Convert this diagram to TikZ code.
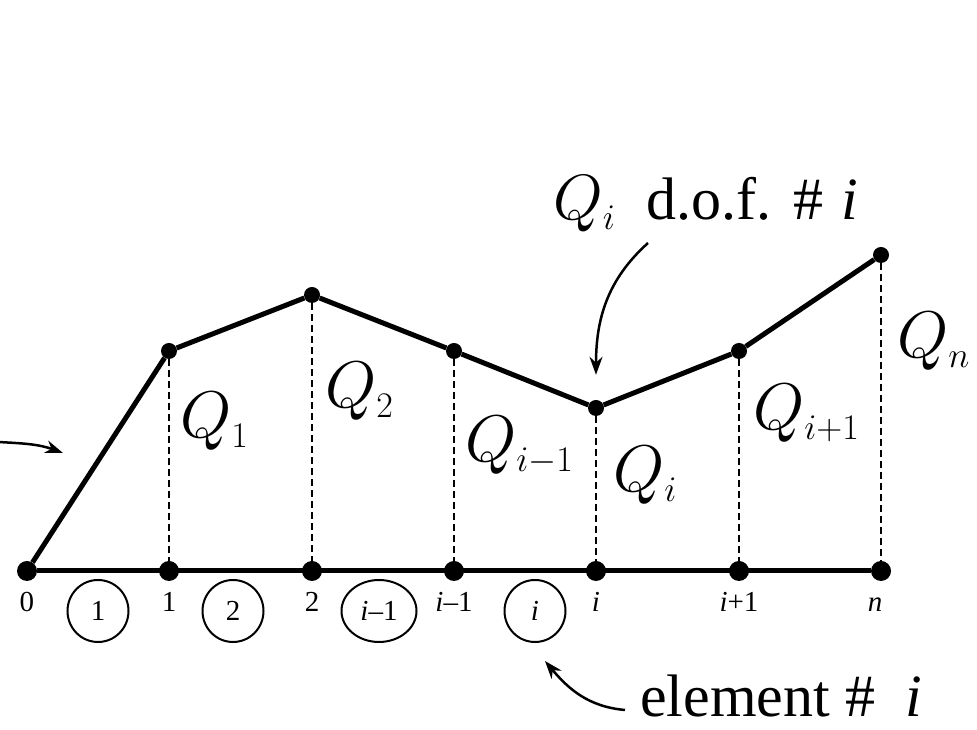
\RequirePackage{fix-cm}
\documentclass[tikz,border=0pt]{standalone}
\usepackage[no-math]{fontspec}
\setmainfont{Liberation Serif}
\usetikzlibrary{arrows.meta,shapes.geometric}

\newcommand{\Qlab}[1]{$Q_{\hbox{\fontsize{36}{40}\selectfont\medmuskip=0mu$#1$}}$}

\begin{document}
\begin{tikzpicture}[x=1pt, y=1pt, >={Stealth[length=18pt,width=13pt]},
  every node/.style={inner sep=0pt},
  basedot/.style={circle, fill, minimum size=20pt},
  topdot/.style={circle, fill, minimum size=16pt},
  shapeline/.style={line width=5pt, line join=round},
  dashline/.style={line width=2.2pt, dash pattern=on 7pt off 4pt},
  elem/.style={draw, ellipse, line width=2pt, minimum width=61pt, minimum height=62pt, font=\fontsize{29}{34}\selectfont},
  num/.style={anchor=base, font=\fontsize{29}{34}\selectfont},
  qlab/.style={anchor=base west, font=\fontsize{66}{76}\selectfont},
  note/.style={anchor=base west, font=\fontsize{60}{70}\selectfont},
  pointer/.style={->, line width=2.5pt}]

  \useasboundingbox (0,0) rectangle (977,730);

  % nodes on the axis
  \foreach \n/\x/\t in {0/27/0, 1/169/1, 2/312/2, 3/454/{\textit{i}--1}, 4/596/\textit{i}, 5/739/{\textit{i}+1}} {
    \node[basedot] (p\n) at (\x,159) {};
    \node[num] (t\n) at (\x,118) {\t};
  }
  \node[basedot] (p6) at (881,159) {};
  \node[num] (t6) at (875,118) {\textit{n}};

  % nodal values
  \node[topdot] (q1) at (169,379) {};
  \node[topdot] (q2) at (312,435) {};
  \node[topdot] (q3) at (454,379) {};
  \node[topdot] (q4) at (596,322) {};
  \node[topdot] (q5) at (739,379) {};
  \node[topdot] (q6) at (881,475) {};

  % piecewise linear shape
  \draw[shapeline] (p0) -- (p6);
  \draw[shapeline] (p0) -- (q1) -- (q2) -- (q3) -- (q4) -- (q5) -- (q6);
  \foreach \n in {1,...,6}
    \draw[dashline] (q\n) -- (p\n);

  % elements
  \node[elem] (e1) at (98,119) {1};
  \node[elem] (e2) at (233,119) {2};
  \node[elem, minimum width=75pt] (e3) at (379,119) {\textit{i}--1};
  \node[elem] (e4) at (535,119) {\textit{i}};

  % values
  \node[qlab] (Q1) at (180,292) {\Qlab{1}};
  \node[qlab] (Q2) at (325,322) {\Qlab{2}};
  \node[qlab] (Q3) at (465,268) {\Qlab{i-1}};
  \node[qlab] (Q4) at (613,238) {\Qlab{i}};
  \node[qlab] (Q5) at (753,300) {\Qlab{i+1}};
  \node[qlab] (Q6) at (897,372) {\Qlab{n}};

  % annotations
  \node[note] (dof) at (553,510) {{\fontsize{64}{74}\selectfont\Qlab{i}}\hspace{31pt}d.o.f.\hspace{22pt}\#\hspace{18pt}\textit{i}};
  \node[note] (elm) at (640,13) {element \#\hspace{30pt}\textit{i}};

  \coordinate (lefttail) at (-2,288);
  \coordinate (lefttip) at (63,277);
  \draw[pointer] (lefttail) to[out=-3, in=160] (lefttip);
  \draw[pointer] ([xshift=95pt, yshift=-23pt]dof.base west) to[out=222, in=90] ([yshift=25pt]q4.north);
  \draw[pointer] ([xshift=-15pt, yshift=7pt]elm.base west) to[out=175, in=-50] ([xshift=10pt, yshift=-18pt]e4.south);
\end{tikzpicture}
\end{document}
